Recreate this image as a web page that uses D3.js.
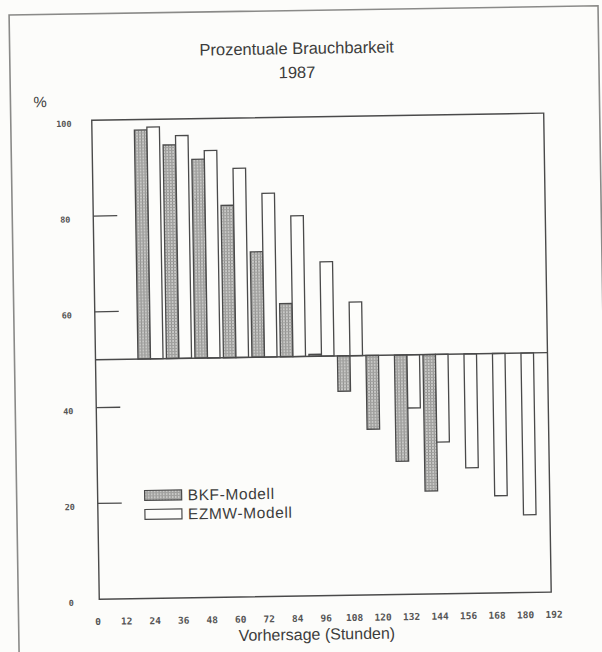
<!DOCTYPE html>
<html>
<head>
<meta charset="utf-8">
<script src="https://cdn.jsdelivr.net/npm/d3@7"></script>
<style>
  html, body { margin: 0; padding: 0; background: #fcfcfa; }
  svg { display: block; }
</style>
</head>
<body>
<div id="chart"></div>
<script>
// ---- data ----
const hours = [24, 36, 48, 60, 72, 84, 96, 108, 120, 132, 144, 156, 168, 180];
const bkf   = [97.8, 94.6, 91.5, 81.8, 72.0, 61.1, 50.4, 42.6, 34.6, 27.8, 21.5, null, null, null];
const ezmw  = [98.4, 96.5, 93.3, 89.5, 84.2, 79.4, 69.7, 61.2, 50.0, 38.9, 31.7, 26.2, 20.3, 16.2];
const yTickValues = [0, 20, 40, 60, 80, 100];
const xTickValues = [0, 12, 24, 36, 48, 60, 72, 84, 96, 108, 120, 132, 144, 156, 168, 180, 192];
const baselineValue = 50;
const titleLines = ["Prozentuale Brauchbarkeit", "1987"];
const yUnit = "%";
const xTitle = "Vorhersage (Stunden)";
const seriesNames = ["BKF-Modell", "EZMW-Modell"];

// ---- layout ----
const W = 602, H = 652;
const box = { left: 95, right: 547, top: 117, bottom: 596 };
const ink = "#4a4a4a", textInk = "#3c3c3c";

const svg = d3.select("#chart").append("svg")
  .attr("width", W).attr("height", H)
  .style("background", "#fcfcfa");

const defs = svg.append("defs");
const pat = defs.append("pattern")
  .attr("id", "stipple").attr("patternUnits", "userSpaceOnUse")
  .attr("width", 3).attr("height", 3);
pat.append("rect").attr("width", 3).attr("height", 3).attr("fill", "#c8c8c6");
pat.append("rect").attr("x", 0).attr("y", 0).attr("width", 1).attr("height", 3).attr("fill", "#8e8e8c");
pat.append("rect").attr("x", 0).attr("y", 1).attr("width", 3).attr("height", 1).attr("fill", "#a0a09e");

// whole page slightly rotated, like the scan
const g = svg.append("g").attr("transform", "rotate(-0.9 301 326)");

// page frame
g.append("path")
  .attr("d", `M14,${H + 20} L14,10.5 L603,10.5 L603,${H + 20}`)
  .attr("fill", "none").attr("stroke", "#8a8a88").attr("stroke-width", 1.6);

const x = d3.scaleLinear().domain([0, 192]).range([93, 549]);
const y = d3.scaleLinear().domain([0, 100]).range([box.bottom, box.top]);
const bw = (x(12) - x(0)) * 0.44;

// titles
g.append("text").attr("x", 301).attr("y", 54).attr("text-anchor", "middle")
  .attr("font-family", "Liberation Sans, Arial, sans-serif").attr("font-size", 16.5)
  .attr("fill", textInk).text(titleLines[0]);
g.append("text").attr("x", 301).attr("y", 78).attr("text-anchor", "middle")
  .attr("font-family", "Liberation Sans, Arial, sans-serif").attr("font-size", 16.5)
  .attr("fill", textInk).text(titleLines[1]);
g.append("text").attr("x", 37).attr("y", 103)
  .attr("font-family", "Liberation Sans, Arial, sans-serif").attr("font-size", 15)
  .attr("fill", textInk).text(yUnit);

// bars
const bars = g.append("g");
hours.forEach((h, i) => {
  const cx = x(h);
  if (bkf[i] != null) {
    const v = bkf[i];
    bars.append("rect")
      .attr("x", cx - bw).attr("width", bw)
      .attr("y", y(Math.max(v, baselineValue)))
      .attr("height", Math.abs(y(v) - y(baselineValue)))
      .attr("fill", "url(#stipple)").attr("stroke", ink).attr("stroke-width", 1.3);
  }
  if (ezmw[i] != null) {
    const v = ezmw[i];
    bars.append("rect")
      .attr("x", cx).attr("width", bw)
      .attr("y", y(Math.max(v, baselineValue)))
      .attr("height", Math.abs(y(v) - y(baselineValue)))
      .attr("fill", "#fdfdfb").attr("stroke", ink).attr("stroke-width", 1.3);
  }
});

// plot box
g.append("rect")
  .attr("x", box.left).attr("y", box.top)
  .attr("width", box.right - box.left).attr("height", box.bottom - box.top)
  .attr("fill", "none").attr("stroke", ink).attr("stroke-width", 1.4);

// baseline at 50 %
g.append("line")
  .attr("x1", box.left).attr("x2", box.right)
  .attr("y1", y(baselineValue)).attr("y2", y(baselineValue))
  .attr("stroke", ink).attr("stroke-width", 1.4);

// y ticks (inside, from left border)
g.selectAll(".ytick").data(yTickValues.filter(v => v > 0 && v < 100)).enter()
  .append("line")
  .attr("x1", box.left).attr("x2", box.left + 24)
  .attr("y1", d => y(d)).attr("y2", d => y(d))
  .attr("stroke", ink).attr("stroke-width", 1.3);

// y labels via axis
const yAxis = g.append("g").attr("transform", `translate(${box.left - 28},3)`)
  .call(d3.axisLeft(y).tickValues(yTickValues).tickSize(0).tickPadding(0));
yAxis.select(".domain").remove();
yAxis.selectAll("text")
  .attr("text-anchor", "middle")
  .attr("font-family", "DejaVu Sans Mono, monospace").attr("font-weight", "bold")
  .attr("font-size", 8.5).attr("fill", "#555");

// x labels via axis
const xAxis = g.append("g").attr("transform", `translate(0,${box.bottom + 19})`)
  .call(d3.axisBottom(x).tickValues(xTickValues).tickSize(0).tickPadding(0));
xAxis.select(".domain").remove();
xAxis.selectAll("text")
  .attr("font-family", "DejaVu Sans Mono, monospace").attr("font-weight", "bold")
  .attr("font-size", 9.5).attr("fill", "#555");

g.append("text").attr("x", 312).attr("y", 640).attr("text-anchor", "middle")
  .attr("font-family", "Liberation Sans, Arial, sans-serif").attr("font-size", 16)
  .attr("fill", textInk).text(xTitle);

// legend
const lg = g.append("g");
const legendRows = [
  { name: seriesNames[0], fill: "url(#stipple)", y: 488 },
  { name: seriesNames[1], fill: "#fdfdfb", y: 507 }
];
legendRows.forEach(r => {
  lg.append("rect").attr("x", 142).attr("y", r.y).attr("width", 37).attr("height", 10)
    .attr("fill", r.fill).attr("stroke", ink).attr("stroke-width", 1.2);
  lg.append("text").attr("x", 185).attr("y", r.y + 10.5)
    .attr("font-family", "Liberation Sans, Arial, sans-serif").attr("font-size", 15.5)
    .attr("letter-spacing", 0.6)
    .attr("fill", textInk).text(r.name);
});
</script>
</body>
</html>
